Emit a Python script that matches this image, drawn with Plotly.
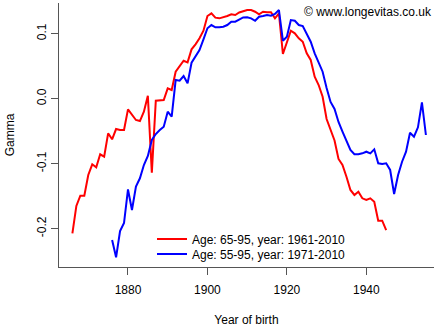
import plotly.graph_objects as go

years_red = list(range(1866, 1946))
gamma_red = [
    -0.2072, -0.1652, -0.1494, -0.1494, -0.1175, -0.1011, -0.1057, -0.0857, -0.0894, -0.0534,
    -0.0626, -0.0468, -0.0483, -0.0483, -0.0165, -0.0252, -0.0329, -0.0345, -0.0202, 0.0045,
    -0.1140, -0.0032, -0.0032, -0.0022, 0.0158, 0.0132, 0.0414, 0.0491, 0.0583, 0.0558,
    0.0758, 0.0835, 0.0928, 0.1045, 0.1271, 0.1312, 0.1245, 0.1235, 0.1251, 0.1271,
    0.1297, 0.1286, 0.1325, 0.1348, 0.1363, 0.1363, 0.1337, 0.1297, 0.1337, 0.1328,
    0.1328, 0.1235, 0.1312, 0.0686, 0.0875, 0.1045, 0.1005, 0.0928, 0.0875, 0.0697,
    0.0594, 0.0337, 0.0209, 0.0029, -0.0314, -0.0483, -0.0645, -0.0929, -0.1022, -0.1202,
    -0.1406, -0.1483, -0.1432, -0.1534, -0.1560, -0.1534, -0.1586, -0.1878, -0.1878, -0.2022,
]

years_blue = list(range(1876, 1956))
gamma_blue = [
    -0.2175, -0.2442, -0.2037, -0.1914, -0.1398, -0.1714, -0.1352, -0.1226, -0.1022, -0.0883,
    -0.0637, -0.0545, -0.0483, -0.0432, -0.0202, -0.0278, 0.0286, 0.0275, 0.0348, 0.0235,
    0.0552, 0.0645, 0.0748, 0.0912, 0.1082, 0.1132, 0.1097, 0.1097, 0.1106, 0.1132,
    0.1183, 0.1183, 0.1217, 0.1248, 0.1251, 0.1235, 0.1198, 0.1260, 0.1271, 0.1286,
    0.1275, 0.1302, 0.1363, 0.0891, 0.0952, 0.1209, 0.1198, 0.1132, 0.1117, 0.1005,
    0.0875, 0.0697, 0.0568, 0.0414, 0.0163, -0.0052, -0.0160, -0.0360, -0.0509, -0.0637,
    -0.0791, -0.0857, -0.0857, -0.0842, -0.0817, -0.0842, -0.0780, -0.0995, -0.1006, -0.0995,
    -0.1098, -0.1468, -0.1175, -0.0971, -0.0817, -0.0525, -0.0586, -0.0442, -0.0057, -0.0560,
]

label_red = "Age: 65-95, year: 1961-2010"
label_blue = "Age: 55-95, year: 1971-2010"

x_ticks = [1880, 1900, 1920, 1940]
y_ticks = [-0.2, -0.1, 0.0, 0.1]
y_ticktext = ["-0.2", "-0.1", "0.0", "0.1"]

FONT = "Liberation Sans, Arial, sans-serif"
AXC = "#555555"

fig = go.Figure()
fig.add_trace(go.Scatter(x=years_red, y=gamma_red, mode="lines", name=label_red,
                         line=dict(color="#ff0000", width=2), legend="legend"))
fig.add_trace(go.Scatter(x=years_blue, y=gamma_blue, mode="lines", name=label_blue,
                         line=dict(color="#0000ff", width=2), legend="legend2"))

W, H = 442, 327
ML, MR, MT, MB = 59, 8, 3, 60
pw, ph = W - ML - MR, H - MT - MB

def px_x(p):
    return (p - ML) / pw

def px_y(p):
    return (H - MB - p) / ph

leg_common = dict(bgcolor="rgba(0,0,0,0)", borderwidth=0, font=dict(family=FONT, size=12, color="black"),
                  itemwidth=30, xanchor="left", yanchor="middle", tracegroupgap=0)

fig.update_layout(
    width=W, height=H,
    margin=dict(l=ML, r=MR, t=MT, b=MB, pad=0),
    paper_bgcolor="white", plot_bgcolor="white",
    font=dict(family=FONT, size=12, color="black"),
    showlegend=True,
    legend=dict(x=px_x(152), y=px_y(239), **leg_common),
    legend2=dict(x=px_x(152), y=px_y(254), **leg_common),
    xaxis=dict(range=[1862.63, 1957.04], tickvals=x_ticks, showgrid=False, zeroline=False,
               showline=True, linecolor=AXC, linewidth=1, ticks="outside", ticklen=7,
               tickcolor=AXC, tickwidth=1, tickfont=dict(size=12, family=FONT),
               ticklabelstandoff=5,
               title=dict(text="Year of birth", font=dict(size=12, family=FONT), standoff=19)),
    yaxis=dict(range=[-0.2591, 0.1471], tickvals=y_ticks, ticktext=y_ticktext, tickangle=-90,
               showgrid=False, zeroline=False, showline=True, linecolor=AXC, linewidth=1,
               ticks="outside", ticklen=7, tickcolor=AXC, tickwidth=1,
               tickfont=dict(size=12, family=FONT),
               title=dict(text="Gamma", font=dict(size=12, family=FONT), standoff=18)),
    annotations=[dict(text="© www.longevitas.co.uk", xref="paper", yref="paper",
                      x=1.0, y=px_y(12), xanchor="right", yanchor="middle", showarrow=False,
                      font=dict(size=12, family=FONT, color="black"))],
)

fig.write_html("out.html")
